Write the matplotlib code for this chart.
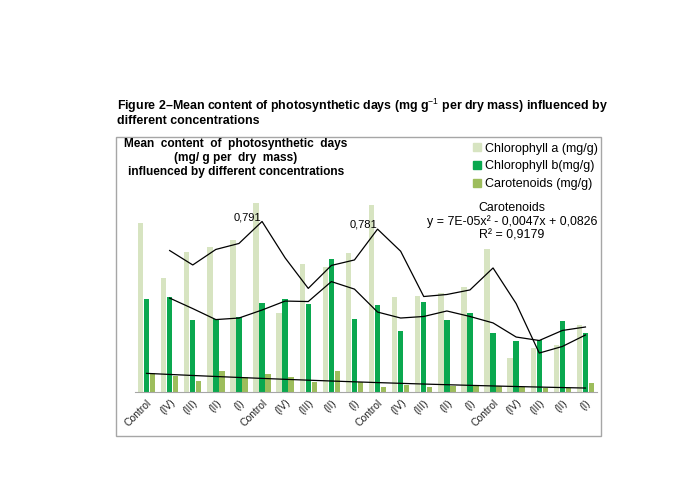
import numpy as np
import pandas as pd
import matplotlib
matplotlib.use("Agg")
import matplotlib.pyplot as plt
from matplotlib.patches import Rectangle
from matplotlib.lines import Line2D

plt.rcParams['font.family'] = ['Liberation Sans', 'DejaVu Sans']
plt.rcParams['mathtext.fontset'] = 'custom'
plt.rcParams['mathtext.rm'] = 'Liberation Sans'
plt.rcParams['mathtext.bf'] = 'Liberation Sans:bold'

categories = ["Control", "(IV)", "(III)", "(II)", "(I)"] * 4
chl_a = [0.707, 0.477, 0.586, 0.607, 0.636, 0.791, 0.331, 0.536, 0.523, 0.582,
         0.781, 0.397, 0.402, 0.414, 0.440, 0.598, 0.142, 0.184, 0.197, 0.280]
chl_b = [0.389, 0.397, 0.301, 0.305, 0.314, 0.372, 0.389, 0.368, 0.556, 0.305,
         0.364, 0.255, 0.377, 0.301, 0.331, 0.247, 0.213, 0.218, 0.297, 0.247]
carot = [0.080, 0.067, 0.046, 0.088, 0.063, 0.075, 0.063, 0.042, 0.088, 0.042,
         0.021, 0.029, 0.021, 0.025, 0.025, 0.025, 0.021, 0.017, 0.017, 0.038]
trend_coef = [7e-05, -0.0047, 0.0826]   # Carotenoids polynomial trendline
point_labels = [(5, "0,791"), (10, "0,781")]
series_names = ["Chlorophyll a (mg/g)", "Chlorophyll b(mg/g)", "Carotenoids (mg/g)"]

col_a = "#d7e4c1"
col_b = "#0aa84f"
col_c = "#9dbd5c"

W, H = 685, 496
fig = plt.figure(figsize=(W / 100, H / 100), dpi=100)

def fx(px):
    return px / W

def fy(py):
    return 1 - py / H

# outer chart frame
fig.patches.append(Rectangle((fx(116), fy(436)), fx(601) - fx(116), fy(137) - fy(436),
                             transform=fig.transFigure, fill=False, edgecolor="#a6a6a6", lw=1.0))

ax = fig.add_axes([fx(135), fy(392), fx(597) - fx(135), fy(153) - fy(392)])
x = np.arange(len(categories))
bw = 0.235
off = 0.26
ax.bar(x - off, chl_a, bw, color=col_a, label=series_names[0], zorder=2)
ax.bar(x, chl_b, bw, color=col_b, label=series_names[1], zorder=2)
ax.bar(x + off, carot, bw, color=col_c, label=series_names[2], zorder=2)

# 2-period moving averages
ma_a = pd.Series(chl_a).rolling(2).mean()
ma_b = pd.Series(chl_b).rolling(2).mean()
ax.plot(x, ma_a, color="black", lw=0.9, zorder=3)
ax.plot(x, ma_b, color="black", lw=0.9, zorder=3)
# polynomial trend for carotenoids (x = 1..n)
xs = x + 1
ax.plot(x, np.polyval(trend_coef, xs), color="black", lw=0.9, zorder=3)

for i, s in point_labels:
    ax.text(i - 0.02, ma_a[i] + 0.018, s, ha="right", va="center", fontsize=8)

ax.set_xlim(-0.5, len(categories) - 0.5)
ax.set_ylim(0, 1.0)
ax.set_yticks([])
for sp in ["top", "right", "left"]:
    ax.spines[sp].set_visible(False)
ax.spines["bottom"].set_color("#a6a6a6")
ax.set_xticks(x)
ax.set_xticklabels(categories, rotation=45, ha="right", va="top",
                   rotation_mode="anchor", fontsize=7.5, color="#222222")
ax.tick_params(axis="x", length=0, pad=4)
ax.patch.set_alpha(0)

# captions / titles
fig.text(fx(117), fy(106), r"Figure 2–Mean content of photosynthetic days (mg g$^{-1}$ per dry mass) influenced by",
         fontsize=8.9, fontweight="bold", ha="left", va="center")
fig.text(fx(117), fy(121), "different concentrations",
         fontsize=8.9, fontweight="bold", ha="left", va="center")
title_lines = ["Mean  content  of  photosynthetic  days", "(mg/ g per  dry  mass)",
               "influenced by different concentrations"]
for k, t in enumerate(title_lines):
    fig.text(fx(236), fy(144 + 14 * k), t, fontsize=8.6, fontweight="bold",
             ha="center", va="center")

# legend
handles = [Line2D([], [], marker="s", ls="", markersize=5.5, color=c) for c in (col_a, col_b, col_c)]
fig.legend(handles, series_names, loc="upper left", bbox_to_anchor=(fx(462), fy(134)),
           frameon=False, fontsize=9.0, handletextpad=0.1, labelspacing=0.45,
           borderpad=0.2, handlelength=1.0)

eq_lines = ["Carotenoids", "y = 7E-05x² - 0,0047x + 0,0826", "R² = 0,9179"]
for k, t in enumerate(eq_lines):
    fig.text(fx(512), fy(208 + 13.5 * k), t, fontsize=8.9, ha="center", va="center")

fig.savefig("out.png", dpi=100)
